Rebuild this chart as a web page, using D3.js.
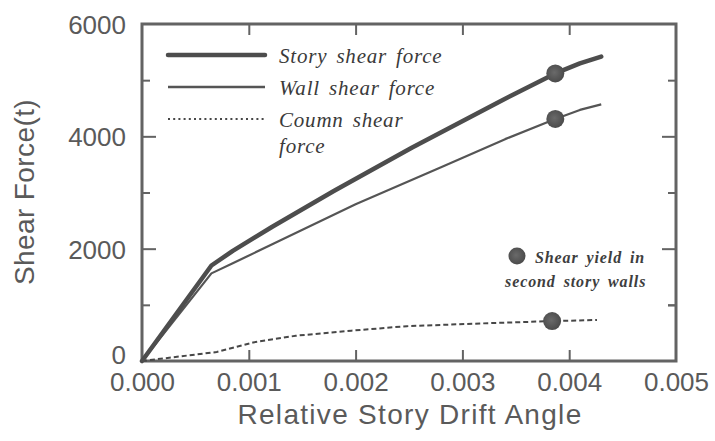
<!DOCTYPE html>
<html><head><meta charset="utf-8">
<script src="https://cdn.jsdelivr.net/npm/d3@7"></script>
<style>
html,body{margin:0;padding:0;background:#fff;}
svg{display:block;}
</style></head>
<body>
<svg id="chart" width="715" height="441"></svg>
<script>
// ---- data ----
const storyDrift = [0, 0.00065, 0.00085, 0.00122, 0.0018, 0.00253, 0.00336, 0.00387, 0.0041, 0.0043];
const storyForce = [0, 1700, 1960, 2390, 3030, 3800, 4630, 5120, 5300, 5420];
const wallDrift = [0, 0.00065, 0.00085, 0.0012, 0.002, 0.0028, 0.0034, 0.00387, 0.0041, 0.0043];
const wallForce = [0, 1560, 1740, 2060, 2790, 3450, 3950, 4310, 4470, 4570];
const columnDrift = [0, 0.0007, 0.00104, 0.00144, 0.00196, 0.00248, 0.00334, 0.00384, 0.00426];
const columnForce = [0, 160, 330, 450, 540, 620, 680, 710, 730];
const yieldDrift = [0.00387, 0.00387, 0.00384];
const yieldForce = [5120, 4310, 710];
const xTicks = [0, 0.001, 0.002, 0.003, 0.004, 0.005];
const xTickLabels = ["0.000", "0.001", "0.002", "0.003", "0.004", "0.005"];
const yTicks = [0, 2000, 4000, 6000];
const yMinorTicks = [1000, 3000, 5000];
const legendNames = ["Story shear force", "Wall shear force", "Coumn shear", "force"];
const markerNote = ["Shear yield in", "second story walls"];
const xTitle = "Relative Story Drift Angle";
const yTitle = "Shear Force(t)";

// ---- layout ----
const L = 142, R = 676, T = 24, B = 361;
const svg = d3.select("#chart");
const x = d3.scaleLinear().domain([0, 0.005]).range([L, R]);
const y = d3.scaleLinear().domain([0, 6000]).range([B, T]);

const frameColor = "#636363", textColor = "#5a5a5a", inkColor = "#474747";

// frame
svg.append("rect").attr("x", L).attr("y", T).attr("width", R - L).attr("height", B - T)
  .attr("fill", "none").attr("stroke", frameColor).attr("stroke-width", 3);

// axes (ticks inside the frame)
const fmtX = (d, i) => xTickLabels[i];
const bottomAxis = d3.axisBottom(x).tickValues(xTicks).tickFormat(fmtX).tickSize(-11).tickPadding(12);
const gB = svg.append("g").attr("transform", `translate(0,${B})`).call(bottomAxis);
const topAxis = d3.axisTop(x).tickValues(xTicks.slice(1, 5)).tickFormat("").tickSize(-11);
const gT = svg.append("g").attr("transform", `translate(0,${T})`).call(topAxis);
const leftAxis = d3.axisLeft(y).tickValues(yTicks).tickFormat(d3.format("d")).tickSize(-14).tickPadding(16);
const gL = svg.append("g").attr("transform", `translate(${L},0)`).call(leftAxis);
const leftMinor = d3.axisLeft(y).tickValues(yMinorTicks).tickFormat("").tickSize(-8);
const gLm = svg.append("g").attr("transform", `translate(${L},0)`).call(leftMinor);
const rightAxis = d3.axisRight(y).tickValues([2000, 4000]).tickFormat("").tickSize(-14);
const gR = svg.append("g").attr("transform", `translate(${R},0)`).call(rightAxis);
const rightMinor = d3.axisRight(y).tickValues(yMinorTicks.concat([1000])).tickFormat("").tickSize(-8);
const gRm = svg.append("g").attr("transform", `translate(${R},0)`).call(rightMinor);

[gB, gT, gL, gLm, gR, gRm].forEach(g => {
  g.select(".domain").remove();
  g.selectAll(".tick line").attr("stroke", frameColor).attr("stroke-width", 2);
  g.selectAll("text").attr("fill", textColor)
    .style("font-family", "'Liberation Sans', Arial, sans-serif").style("font-size", "26px");
});
gB.selectAll(".tick").filter(d => d === 0 || d === 0.005).select("line").remove();
gL.selectAll(".tick").filter(d => d === 0 || d === 6000).select("line").remove();
gL.selectAll("text").attr("dy", "0.36em");
gL.selectAll(".tick").filter(d => d === 0).select("text").attr("dy", "0.11em");

// titles
svg.append("text").attr("x", (L + R) / 2 + 1).attr("y", 424).attr("text-anchor", "middle")
  .attr("fill", textColor).style("font-family", "'Liberation Sans', Arial, sans-serif")
  .style("font-size", "28px").style("letter-spacing", "1.3px").text(xTitle);
svg.append("text").attr("transform", "translate(34,192) rotate(-90)").attr("text-anchor", "middle")
  .attr("fill", textColor).style("font-family", "'Liberation Sans', Arial, sans-serif")
  .style("font-size", "28px").style("letter-spacing", "0.4px").text(yTitle);

// lines
const lineGen = d3.line().x(d => x(d[0])).y(d => y(d[1])).curve(d3.curveLinear);
const zip = (a, b) => a.map((v, i) => [v, b[i]]);
svg.append("path").datum(zip(columnDrift, columnForce)).attr("d", lineGen)
  .attr("fill", "none").attr("stroke", inkColor).attr("stroke-width", 2).attr("stroke-dasharray", "5,3");
svg.append("path").datum(zip(wallDrift, wallForce)).attr("d", lineGen)
  .attr("fill", "none").attr("stroke", "#555").attr("stroke-width", 2.2).attr("stroke-linejoin", "round");
svg.append("path").datum(zip(storyDrift, storyForce)).attr("d", lineGen)
  .attr("fill", "none").attr("stroke", "#4d4d4d").attr("stroke-width", 4.5)
  .attr("stroke-linecap", "round").attr("stroke-linejoin", "round");

// yield markers
const defs = svg.append("defs");
const grad = defs.append("radialGradient").attr("id", "dot").attr("cx", "45%").attr("cy", "45%").attr("r", "60%");
grad.append("stop").attr("offset", "0%").attr("stop-color", "#6a6a6a");
grad.append("stop").attr("offset", "100%").attr("stop-color", "#484848");
svg.selectAll("circle.yield").data(zip(yieldDrift, yieldForce)).enter().append("circle")
  .attr("class", "yield").attr("cx", d => x(d[0])).attr("cy", d => y(d[1])).attr("r", 9)
  .attr("fill", "url(#dot)");

// legend
const serif = "'Liberation Serif', 'Times New Roman', serif";
const legY = [55, 87, 119];
const legStyles = [
  {w: 4.5, dash: null, c: "#4d4d4d"},
  {w: 2.5, dash: null, c: "#555"},
  {w: 2, dash: "2,3.2", c: inkColor}
];
legY.forEach((ly, i) => {
  svg.append("line").attr("x1", 168).attr("x2", 265).attr("y1", ly).attr("y2", ly)
    .attr("stroke", legStyles[i].c).attr("stroke-width", legStyles[i].w)
    .attr("stroke-dasharray", legStyles[i].dash).attr("stroke-linecap", i === 0 ? "round" : "butt");
});
const legBase = [63, 95, 127, 153];
legendNames.forEach((t, i) => {
  svg.append("text").attr("x", 279).attr("y", legBase[i]).attr("fill", "#3a3a3a")
    .style("font-family", serif).style("font-style", "italic").style("font-size", "21px")
    .style("letter-spacing", "0.8px").style("word-spacing", "3px").text(t);
});
svg.append("circle").attr("cx", 517).attr("cy", 256).attr("r", 8.5).attr("fill", "url(#dot)");
const noteX = [535, 505], noteY = [263, 287];
markerNote.forEach((t, i) => {
  svg.append("text").attr("x", noteX[i]).attr("y", noteY[i]).attr("fill", "#3e3e3e")
    .style("font-family", serif).style("font-style", "italic").style("font-size", "16px")
    .style("font-weight", "bold")
    .style("letter-spacing", "0.9px").style("word-spacing", "3px").text(t);
});
</script>
</body></html>
